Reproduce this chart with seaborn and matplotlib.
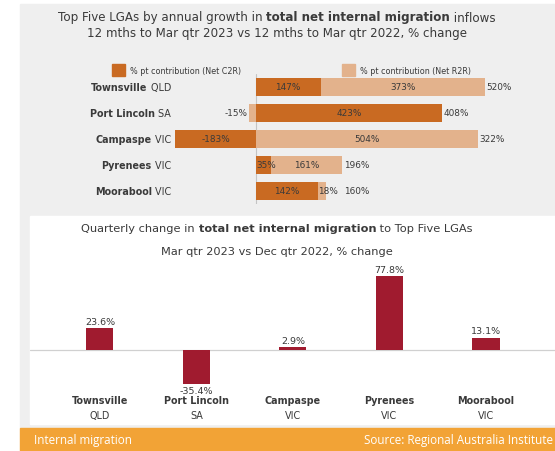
import numpy as np
import pandas as pd
import matplotlib
matplotlib.use("Agg")
import matplotlib.pyplot as plt
from matplotlib.patches import Rectangle
import seaborn as sns

# ── data ────────────────────────────────────────────────────────────────
lga_names  = ["Townsville", "Port Lincoln", "Campaspe", "Pyrenees", "Moorabool"]
lga_states = ["QLD", "SA", "VIC", "VIC", "VIC"]
c2r_pts    = [147, 423, -183, 35, 142]     # % pt contribution (Net C2R)
r2r_pts    = [373, -15, 504, 161, 18]      # % pt contribution (Net R2R)
total_pct  = [520, 408, 322, 196, 160]
qtr_change = [23.6, -35.4, 2.9, 77.8, 13.1]

C2R_COL   = "#c96a22"
R2R_COL   = "#e3b28c"
BAR_COL   = "#a01b2f"
PANEL_COL = "#efefef"
FOOT_COL  = "#f2a336"
TXT_COL   = "#3a3a3a"

W, H = 555, 452
sns.set_style("white")
plt.rcParams["font.family"] = ["DejaVu Sans"]

fig = plt.figure(figsize=(W / 100, H / 100), dpi=100)
fig.patch.set_facecolor("white")


def fx(px):
    return px / W


def fy(py):
    return 1 - py / H


def axes_box(x0, y0, x1, y1):
    return [fx(x0), fy(y1), fx(x1) - fx(x0), (y1 - y0) / H]


# background panels
fig.patches.append(Rectangle((fx(20), fy(429)), fx(535), 424 / H,
                             transform=fig.transFigure, color=PANEL_COL, zorder=-5))
fig.patches.append(Rectangle((fx(30), fy(425)), fx(525), 208 / H,
                             transform=fig.transFigure, color="white", zorder=-4))
fig.patches.append(Rectangle((fx(20), 0), fx(535), 23 / H,
                             transform=fig.transFigure, color=FOOT_COL, zorder=-4))

renderer = fig.canvas.get_renderer()


def rich_line(y_px, parts, size, xc_px=277):
    texts, widths = [], []
    for s, w in parts:
        t = fig.text(0, fy(y_px), s, fontsize=size, fontweight=w,
                     color=TXT_COL, va="center", ha="left")
        texts.append(t)
        widths.append(t.get_window_extent(renderer).width)
    x = xc_px - sum(widths) / 2
    for t, wd in zip(texts, widths):
        t.set_x(fx(x))
        x += wd


# ── top chart ───────────────────────────────────────────────────────────
rich_line(18, [("Top Five LGAs by annual growth in ", "normal"),
               ("total net internal migration", "bold"),
               (" inflows", "normal")], 8.6)
rich_line(34, [("12 mths to Mar qtr 2023 vs 12 mths to Mar qtr 2022, % change", "normal")], 8.6)

# legend
for sx, lab, col in [(112, "% pt contribution (Net C2R)", C2R_COL),
                     (342, "% pt contribution (Net R2R)", R2R_COL)]:
    fig.patches.append(Rectangle((fx(sx), fy(77)), fx(13), 12 / H,
                                 transform=fig.transFigure, color=col))
    fig.text(fx(sx + 18), fy(71), lab, fontsize=5.8, color=TXT_COL, va="center")

top = pd.DataFrame({"lga": lga_names, "state": lga_states,
                    "c2r": c2r_pts, "r2r": r2r_pts, "total": total_pct})
same_sign = np.sign(top["c2r"]) == np.sign(top["r2r"])
top["r2r_start"] = np.where(same_sign, top["c2r"], 0)
top["r2r_end"] = top["r2r_start"] + top["r2r"]

ax1 = fig.add_axes(axes_box(160, 75, 555, 205))
sns.barplot(data=top, x="r2r_end", y="lga", color=R2R_COL, orient="h",
            width=0.72, linewidth=0, saturation=1, ax=ax1)
sns.barplot(data=top, x="c2r", y="lga", color=C2R_COL, orient="h",
            width=0.72, linewidth=0, saturation=1, ax=ax1)
ax1.set_xlim(-218, 680)
ax1.set_ylim(4.5, -0.5)
ax1.axvline(0, color="#c4c4c4", lw=0.8, zorder=0)
ax1.set_facecolor("none")
ax1.set_xlabel("")
ax1.set_ylabel("")
ax1.set_xticks([])
ax1.set_yticks([])
sns.despine(ax=ax1, left=True, bottom=True)

lab_kw = dict(fontsize=6.4, color=TXT_COL, va="center")
for i, row in top.iterrows():
    # C2R label
    if abs(row.c2r) >= 40:
        ax1.text(row.c2r / 2, i, f"{row.c2r}%", ha="center", **lab_kw)
    else:
        ax1.text(0, i, f"{row.c2r}%", ha="left", **lab_kw)
    # R2R label
    small = None
    if abs(row.r2r) >= 40:
        ax1.text((row.r2r_start + row.r2r_end) / 2, i, f"{row.r2r}%", ha="center", **lab_kw)
    elif row.r2r < 0:
        ax1.annotate(f"{row.r2r}%", (row.r2r_end, i), xytext=(-1, 0),
                     textcoords="offset points", ha="right", **lab_kw)
    else:
        small = ax1.text(row.r2r_start, i, f"{row.r2r}%", ha="left", **lab_kw)
    # total label
    right = max(row.c2r, row.r2r_end, 0)
    if small is not None and row.r2r_end >= right:
        ax1.annotate(f"{row.total}%", xy=(1, 0.5), xycoords=small, xytext=(4, 0),
                     textcoords="offset points", ha="left", **lab_kw)
    else:
        ax1.annotate(f"{row.total}%", (right, i), xytext=(1.5, 0),
                     textcoords="offset points", ha="left", **lab_kw)
    # row label: bold name + normal state, right aligned
    st = ax1.annotate(f" {row.state}", xy=(fx(171), i),
                      xycoords=("figure fraction", "data"),
                      ha="right", va="center", fontsize=6.9, color=TXT_COL)
    ax1.annotate(row.lga, xy=(0, 0.5), xycoords=st, ha="right", va="center",
                 fontsize=6.9, color=TXT_COL, fontweight="bold")

# ── bottom chart ────────────────────────────────────────────────────────
rich_line(229, [("Quarterly change in ", "normal"),
                ("total net internal migration", "bold"),
                (" to Top Five LGAs", "normal")], 8.2)
rich_line(252, [("Mar qtr 2023 vs Dec qtr 2022, % change", "normal")], 8.2)

bot = pd.DataFrame({"lga": lga_names, "state": lga_states, "chg": qtr_change})
ax2 = fig.add_axes(axes_box(30, 260, 555, 395))
sns.barplot(data=bot, x="lga", y="chg", color=BAR_COL, width=0.28,
            linewidth=0, saturation=1, ax=ax2)
ax2.set_xlim(-0.725, 4.715)
ax2.set_ylim(-46.3, 95.8)
ax2.axhline(0, color="#d0d0d0", lw=0.9, zorder=0)
ax2.set_facecolor("none")
ax2.set_xlabel("")
ax2.set_ylabel("")
ax2.set_xticks([])
ax2.set_yticks([])
sns.despine(ax=ax2, left=True, bottom=True)

for i, row in bot.iterrows():
    off = 1.5 if row.chg >= 0 else -1.5
    ax2.annotate(f"{row.chg:.1f}%", (i, row.chg), xytext=(0, off),
                 textcoords="offset points", ha="center",
                 va="bottom" if row.chg >= 0 else "top",
                 fontsize=6.8, color=TXT_COL)
    ax2.annotate(row.lga, (i, 0), xycoords=("data", "axes fraction"),
                 xytext=(0, -4.5), textcoords="offset points", ha="center",
                 va="center", fontsize=6.9, fontweight="bold", color=TXT_COL)
    ax2.annotate(row.state, (i, 0), xycoords=("data", "axes fraction"),
                 xytext=(0, -15.3), textcoords="offset points", ha="center",
                 va="center", fontsize=6.9, color=TXT_COL)

# ── footer ──────────────────────────────────────────────────────────────
fig.text(fx(34), fy(441), "Internal migration", fontsize=8.4, color="white",
         va="center", ha="left", family=["Open Sans", "DejaVu Sans"])
fig.text(fx(553), fy(441), "Source: Regional Australia Institute", fontsize=8.4,
         color="white", va="center", ha="right", family=["Open Sans", "DejaVu Sans"])

fig.savefig("out.png", dpi=100)
